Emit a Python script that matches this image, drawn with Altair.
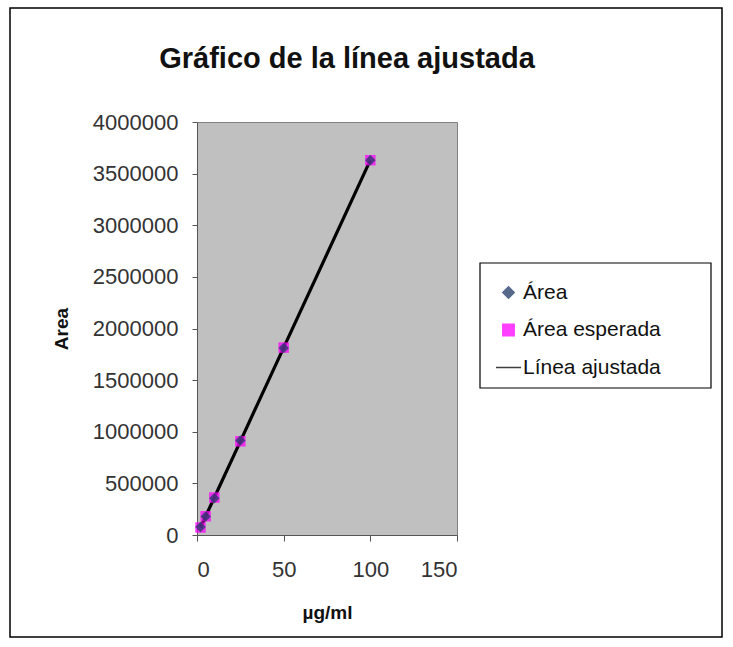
import altair as alt
import pandas as pd

# Data
conc = [2, 5, 10, 25, 50, 100]                      # µg/ml
area = [78000, 180000, 355000, 915000, 1810000, 3630000]
area_esperada = [72600, 181500, 363000, 907500, 1815000, 3630000]
linea_ajustada = [72600, 181500, 363000, 907500, 1815000, 3630000]

series = ["Área", "Área esperada", "Línea ajustada"]
colors = ["#1F3864", "#FF00FF", "#000000"]
shapes = ["diamond", "square", "M-2.2,0L2.2,0"]

# expected values first so that the measured diamonds sit on top
pts = pd.DataFrame(
    {"x": conc + conc, "y": area_esperada + area,
     "s": [series[1]] * len(conc) + [series[0]] * len(conc)}
)
line = pd.DataFrame({"x": conc, "y": linea_ajustada, "s": [series[2]] * len(conc)})

W, H = 260, 413
L, T = 197, 122
FONT = "Liberation Sans"

xs = alt.X("x:Q", scale=alt.Scale(domain=[0, 150]),
           axis=alt.Axis(values=[0, 50, 100, 150], title="µg/ml", grid=False))
ys = alt.Y("y:Q", scale=alt.Scale(domain=[0, 4000000]),
           axis=alt.Axis(values=list(range(0, 4000001, 500000)), title="Area",
                         grid=False, format="d"))
leg = alt.Legend(title=None, orient="none", legendX=301, legendY=160)
color = alt.Color("s:N", scale=alt.Scale(domain=series, range=colors), legend=leg)
shape = alt.Shape("s:N", scale=alt.Scale(domain=series, range=shapes), legend=leg)

frame = alt.Chart(pd.DataFrame({"a": [0]})).mark_rect(
    fillOpacity=0, stroke="black", strokeWidth=1.5
).encode(x=alt.value(10 - L), x2=alt.value(722 - L), y=alt.value(8 - T), y2=alt.value(637 - T))

legend_box = alt.Chart(pd.DataFrame({"a": [0]})).mark_rect(
    fill="white", stroke="black", strokeWidth=1.2
).encode(x=alt.value(480 - L), x2=alt.value(711 - L), y=alt.value(263 - T), y2=alt.value(388 - T))

line_layer = alt.Chart(line).mark_line(strokeWidth=3.2).encode(x=xs, y=ys, color=color)
pt_layer = alt.Chart(pts).mark_point(filled=True, size=110, opacity=0.75).encode(
    x=xs, y=ys, color=color, shape=shape)

chart = alt.layer(frame, legend_box, line_layer, pt_layer).properties(
    width=W, height=H,
    background="white",
    autosize=alt.AutoSizeParams(type="none"),
    padding={"left": L, "top": T, "right": 733 - L - W, "bottom": 647 - T - H},
    title=alt.TitleParams("Gráfico de la línea ajustada", fontSize=29, fontWeight="bold",
                          font=FONT, color="#111", anchor="middle", frame="group",
                          dx=20, offset=-67),
).configure_view(fill="#C0C0C0", stroke="#808080", strokeWidth=1
).configure_axis(
    labelFont=FONT, labelFontSize=22, labelColor="#333",
    titleFont=FONT, titleFontSize=19, titleFontWeight="bold", titleColor="#111",
    domainColor="#555", tickColor="#555",
).configure_axisX(labelPadding=18, titlePadding=23, tickSize=6
).configure_axisY(labelPadding=14, titlePadding=21, tickSize=5
).configure_legend(
    labelFont=FONT, labelFontSize=21, labelColor="#111",
    padding=0, rowPadding=15.5, symbolSize=130, labelOffset=4, labelLimit=300,
    symbolStrokeWidth=1.5,
)

chart.save("out.html", embed_options={"renderer": "svg", "actions": False})
